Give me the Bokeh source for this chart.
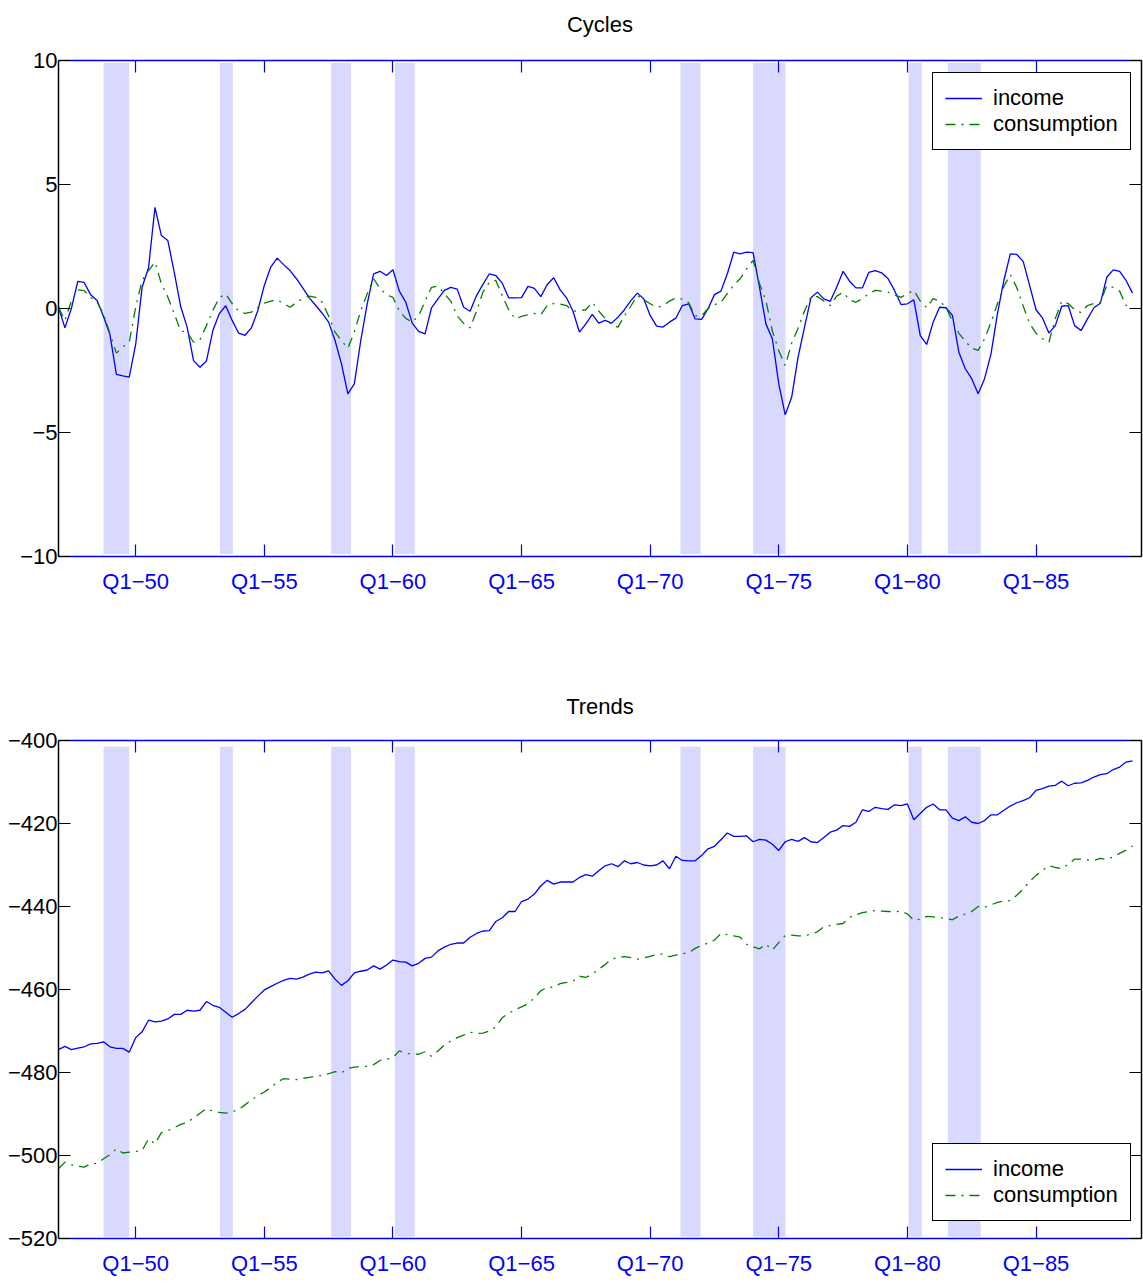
from bokeh.plotting import figure
from bokeh.models import LinearAxis, FixedTicker, Legend, LegendItem, Range1d
from bokeh.layouts import column
from bokeh.embed import file_html
from bokeh.resources import INLINE

# ---------------- data (quarterly, 1947Q1 .. 1988Q4) ----------------
income_cycle = [
    0.05, -0.78, 0.0, 1.09, 1.05, 0.55, 0.32, -0.32, -1.05, -2.66,
    -2.72, -2.77, -1.45, 0.86, 1.64, 4.08, 2.94, 2.74, 1.46, 0.08,
    -0.75, -2.1, -2.37, -2.12, -0.89, -0.21, 0.11, -0.48, -0.99, -1.08,
    -0.78, -0.08, 0.93, 1.67, 2.03, 1.77, 1.53, 1.2, 0.82, 0.43,
    0.12, -0.19, -0.55, -1.29, -2.23, -3.44, -3.04, -1.29, 0.19, 1.4,
    1.5, 1.33, 1.56, 0.7, 0.25, -0.59, -0.92, -1.02, 0.03, 0.39,
    0.73, 0.85, 0.78, 0.05, -0.11, 0.52, 0.97, 1.4, 1.33, 1.02,
    0.43, 0.43, 0.44, 0.89, 0.81, 0.48, 0.97, 1.24, 0.75, 0.43,
    -0.11, -0.95, -0.62, -0.24, -0.59, -0.48, -0.59, -0.35, -0.05, 0.32,
    0.62, 0.39, -0.28, -0.71, -0.75, -0.55, -0.39, 0.12, 0.19, -0.42,
    -0.44, -0.01, 0.56, 0.7, 1.4, 2.27, 2.2, 2.27, 2.25, 0.86,
    -0.62, -1.22, -3.04, -4.29, -3.58, -1.96, -0.75, 0.43, 0.66, 0.39,
    0.29, 0.86, 1.5, 1.1, 0.83, 0.83, 1.46, 1.53, 1.44, 1.2,
    0.73, 0.16, 0.19, 0.35, -1.09, -1.45, -0.55, 0.05, 0.03, -0.28,
    -1.76, -2.43, -2.83, -3.44, -2.83, -1.83, -0.21, 1.13, 2.2, 2.18,
    1.9, 0.93, -0.05, -0.38, -0.99, -0.69, 0.09, 0.12, -0.69, -0.89,
    -0.42, 0.03, 0.21, 1.26, 1.56, 1.5, 1.13, 0.62,
]
consumption_cycle = [
    0.05, -0.48, 0.3, 0.75, 0.72, 0.45, 0.25, -0.21, -1.02, -1.8,
    -1.55, -1.36, 0.05, 1.13, 1.53, 1.87, 1.0, 0.46, -0.21, -0.91,
    -0.95, -1.36, -1.26, -0.69, -0.08, 0.43, 0.59, 0.2, -0.1, -0.2,
    -0.15, 0.05, 0.22, 0.3, 0.35, 0.2, 0.05, 0.25, 0.4, 0.5,
    0.45, 0.25, -0.3, -0.95, -1.3, -1.6, -0.95, -0.08, 0.59, 1.2,
    0.8, 0.55, 0.45, -0.1, -0.4, -0.55, -0.3, 0.3, 0.85, 0.9,
    0.6, 0.3, -0.3, -0.6, -0.78, -0.11, 0.66, 1.06, 1.13, 0.52,
    -0.05, -0.42, -0.32, -0.25, -0.2, -0.25, 0.12, 0.2, 0.18, 0.12,
    -0.11, -0.1, -0.05, 0.25, -0.1, -0.4, -0.65, -0.75, -0.3, 0.1,
    0.52, 0.35, 0.19, 0.05, 0.11, 0.3, 0.42, 0.38, 0.23, -0.3,
    -0.3, 0.0, 0.15, 0.25, 0.6, 0.95, 1.2, 1.6, 1.94, 1.0,
    0.32, -0.9, -1.7, -2.3, -1.4, -0.8, -0.1, 0.46, 0.48, 0.3,
    0.12, 0.5, 0.65, 0.35, 0.25, 0.4, 0.6, 0.73, 0.7, 0.66,
    0.55, 0.45, 0.6, 0.73, 0.3, 0.03, 0.4, 0.3, 0.05, -0.5,
    -1.0, -1.32, -1.6, -1.69, -1.22, -0.55, 0.19, 0.89, 1.37, 0.85,
    0.1, -0.6, -1.0, -1.22, -1.36, -0.4, 0.3, 0.2, -0.05, -0.17,
    0.12, 0.2, 0.25, 0.93, 0.85, 0.7, 0.12, 0.0,
]
income_trend = [
    -474.5, -473.7, -474.5, -474.1, -473.8, -473.1, -473.0, -472.6, -473.8, -474.2,
    -474.2, -475.1, -471.6, -470.2, -467.4, -467.8, -467.6, -467.1, -466.0, -466.0,
    -465.0, -465.2, -465.0, -462.9, -463.8, -464.3, -465.5, -466.7, -465.8, -464.8,
    -463.2, -461.6, -460.1, -459.3, -458.5, -457.8, -457.3, -457.5, -457.0, -456.3,
    -455.8, -456.0, -455.5, -457.5, -459.0, -457.9, -456.0, -455.6, -455.3, -454.3,
    -455.1, -454.1, -452.9, -453.3, -453.4, -454.3, -453.7, -452.5, -452.2, -450.7,
    -449.8, -449.1, -448.8, -448.8, -447.4, -446.5, -445.9, -445.8, -443.6, -442.7,
    -441.2, -441.2, -438.8, -438.2, -437.0, -435.0, -433.7, -434.6, -434.1, -434.1,
    -434.1, -433.0, -432.3, -432.7, -431.4, -430.2, -429.7, -430.4, -429.0, -429.7,
    -429.4, -430.0, -430.2, -430.0, -429.0, -430.9, -427.9, -428.9, -429.0, -429.0,
    -427.7, -426.1, -425.5, -423.9, -422.3, -423.1, -423.1, -423.0, -424.4, -423.8,
    -424.0, -425.0, -426.5, -424.4, -423.8, -424.3, -423.4, -424.4, -424.6, -423.4,
    -422.1, -421.6, -420.5, -420.7, -419.7, -416.7, -417.1, -416.1, -416.4, -416.6,
    -415.5, -415.7, -415.3, -419.1, -417.6, -416.1, -415.3, -416.7, -416.7, -418.7,
    -419.3, -418.4, -419.7, -420.0, -419.3, -417.9, -417.9, -416.8, -415.8, -415.0,
    -414.5, -413.8, -412.0, -411.6, -411.0, -410.8, -409.8, -410.9, -410.3, -410.2,
    -409.6, -408.8, -408.2, -408.0, -407.0, -406.4, -405.2, -404.9,
]
consumption_trend = [
    -503.2, -501.6, -502.2, -502.6, -502.8, -502.0, -501.9, -500.8, -499.8, -498.4,
    -499.4, -499.2, -499.0, -498.8, -496.0, -497.2, -494.5, -494.0, -493.3, -492.5,
    -492.0, -491.0, -489.8, -488.7, -489.3, -489.6, -489.8, -489.5, -488.9, -487.8,
    -486.6, -485.6, -484.7, -483.6, -482.3, -481.5, -481.6, -481.7, -481.4, -481.2,
    -480.9, -480.7, -480.3, -479.8, -480.1, -479.0, -478.7, -478.6, -478.5, -478.1,
    -477.1, -476.8, -476.4, -474.8, -475.4, -475.5, -475.6, -475.0, -476.1, -474.8,
    -473.4, -472.4, -471.6, -471.0, -470.3, -470.6, -470.5, -470.0, -469.0, -466.8,
    -465.7, -464.9, -464.2, -463.4, -462.0, -460.3, -459.5, -459.4, -458.6, -458.3,
    -458.0, -456.8, -457.1, -456.3, -455.1, -454.0, -452.7, -452.3, -452.1, -452.3,
    -452.7, -452.4, -452.0, -451.6, -451.4, -452.1, -451.7, -451.4, -451.1, -450.1,
    -449.4, -448.8, -448.1, -446.5, -446.8, -447.1, -447.4, -449.1, -449.7, -450.2,
    -449.1, -450.5, -448.7, -447.0, -446.9, -447.1, -447.0, -446.7, -446.1, -444.9,
    -444.6, -444.3, -444.1, -442.6, -442.0, -441.5, -441.2, -441.0, -441.1, -441.2,
    -441.3, -441.1, -441.8, -443.3, -443.1, -442.4, -442.5, -442.7, -442.8, -443.2,
    -442.3, -441.8, -441.2, -440.0, -440.2, -439.6, -439.0, -438.7, -438.6, -437.3,
    -435.8, -434.0, -432.5, -431.3, -430.2, -430.6, -430.9, -429.8, -428.6, -428.6,
    -428.8, -428.9, -428.4, -428.7, -428.0, -427.2, -426.4, -425.4,
]
recession_start = [1948.75, 1953.28, 1957.6, 1960.08, 1971.18, 1974.0, 1980.05, 1981.57]
recession_end = [1949.75, 1953.78, 1958.37, 1960.85, 1971.96, 1975.26, 1980.56, 1982.85]

x_tick_years = [1950, 1955, 1960, 1965, 1970, 1975, 1980, 1985]
x_tick_labels = ["Q1\u221250", "Q1\u221255", "Q1\u221260", "Q1\u221265",
                 "Q1\u221270", "Q1\u221275", "Q1\u221280", "Q1\u221285"]
cycle_ticks = [-10, -5, 0, 5, 10]
cycle_tick_labels = ["\u221210", "\u22125", "0", "5", "10"]
trend_ticks = [-520, -500, -480, -460, -440, -420, -400]
trend_tick_labels = ["\u2212520", "\u2212500", "\u2212480", "\u2212460", "\u2212440", "\u2212420", "\u2212400"]

START_YEAR = 1947
dates = [START_YEAR + q / 4 for q in range(len(income_cycle))]

FONT = "Liberation Sans"
BLUE = "#0000ff"
GREEN = "#008000"
SHADE = "#d9d9ff"
FS = "22px"


def add_axis(p, side, color, ticks, labels, standoff=8, title=None, title_standoff=22):
    ax = LinearAxis(ticker=FixedTicker(ticks=ticks))
    ax.axis_line_color = color
    ax.axis_line_width = 1.5
    ax.major_tick_line_color = color
    ax.major_tick_line_width = 1.2
    ax.major_tick_in = 12
    ax.major_tick_out = 0
    ax.minor_tick_line_color = None
    ax.major_label_text_font = FONT
    if labels is not None:
        ax.major_label_overrides = {t: l for t, l in zip(ticks, labels)}
        ax.major_label_text_color = color
        ax.major_label_text_font_size = FS
        ax.major_label_standoff = standoff
    else:
        ax.major_label_text_color = None
        ax.major_label_text_font_size = "1px"
        ax.major_label_standoff = 0
    if title is not None:
        # panel title, centred above the frame
        ax.axis_label = title
        ax.axis_label_text_font = FONT
        ax.axis_label_text_font_size = FS
        ax.axis_label_text_font_style = "normal"
        ax.axis_label_text_color = "black"
        ax.axis_label_standoff = title_standoff
    p.add_layout(ax, side)


def make_panel(title, inc, con, yticks, ylabels, yr, shade, height, top, bottom,
               legend_loc, title_standoff):
    p = figure(width=1143, height=height, output_backend="svg", toolbar_location=None,
               title=None,
               x_range=Range1d(1947, 1989.1), y_range=Range1d(*yr),
               x_axis_type=None, y_axis_type=None,
               min_border_left=58, min_border_right=2,
               min_border_top=top, min_border_bottom=bottom)
    p.outline_line_color = None
    p.background_fill_color = "white"
    p.border_fill_color = "white"

    p.quad(left=recession_start, right=recession_end, bottom=shade[0], top=shade[1],
           fill_color=SHADE, line_color=None)
    r1 = p.line(dates, inc, line_color=BLUE, line_width=1.3)
    r2 = p.line(dates, con, line_color=GREEN, line_width=1.3, line_dash="10 6 2 6")

    add_axis(p, "below", BLUE, x_tick_years, x_tick_labels, standoff=12)
    add_axis(p, "above", BLUE, x_tick_years, None, title=title, title_standoff=title_standoff)
    add_axis(p, "left", "black", yticks, ylabels, standoff=1)
    add_axis(p, "right", "black", yticks, None)

    legend = Legend(items=[LegendItem(label="income", renderers=[r1]),
                           LegendItem(label="consumption", renderers=[r2])],
                    location=legend_loc, margin=0, padding=12, spacing=0,
                    border_line_color="black", border_line_width=1.5, border_line_alpha=1.0,
                    background_fill_color="white", background_fill_alpha=1,
                    label_text_font=FONT, label_text_font_size=FS, label_text_color="black",
                    glyph_width=37, glyph_height=20, label_standoff=11)
    p.add_layout(legend)
    return p


top = make_panel("Cycles", income_cycle, consumption_cycle, cycle_ticks, cycle_tick_labels,
                 (-10, 10), (-9.9, 9.9), 640, 60, 84, (874, 406), 24)
bottom = make_panel("Trends", income_trend, consumption_trend, trend_ticks, trend_tick_labels,
                    (-520, -400), (-519.6, -401.5), 643, 100, 45, (874, 17), 22)

layout = column(top, bottom, spacing=0)
open("out.html", "w").write(file_html(layout, INLINE))
